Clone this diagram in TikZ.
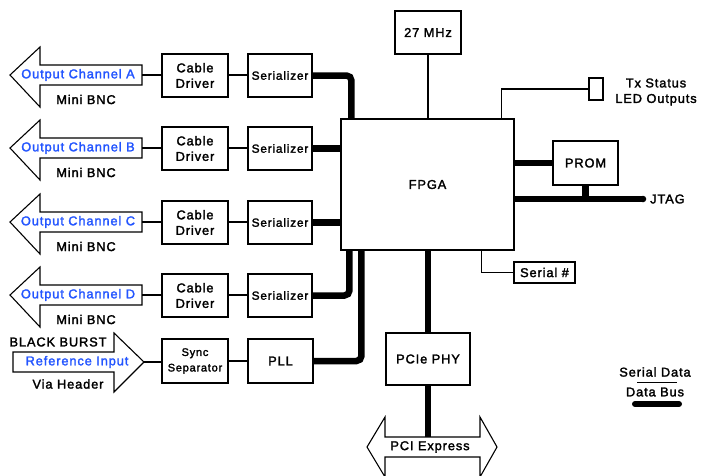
\documentclass[tikz,border=0pt]{standalone}
\usepackage{fontspec}
\setmainfont{Liberation Sans}[LetterSpace=7,FakeBold=2]
\usetikzlibrary{calc}
\definecolor{bluetxt}{RGB}{35,85,255}
\newcommand\fsz[1]{\fontsize{#1}{15.5}\selectfont}
\tikzset{
  box/.style={draw,line width=1.1pt,fill=white,inner sep=0pt,align=center,font=\fsz{12.8}},
  conn/.style={line width=1.1pt},
  bus/.style={line width=6.5pt,rounded corners=5pt},
  shapeline/.style={line width=1.1pt,line join=miter},
  lbl/.style={inner sep=0pt,font=\fsz{12.8}},
  bluelbl/.style={lbl,text=bluetxt},
}
\begin{document}
\begin{tikzpicture}[x=1pt,y=-1pt]
\useasboundingbox (0,0) rectangle (703,475);
\clip (0,0) rectangle (703,475);

% output channels
\foreach \r/\y in {A/75,B/148,C/222,D/295}{
  \draw[shapeline] (10,\y) -- (40,\y-28) -- (40,\y-10) -- (142,\y-10) -- (142,\y+10) -- (40,\y+10) -- (40,\y+32) -- cycle;
  \coordinate (out\r) at (142,\y);
  \node[bluelbl] (lab\r) at (78,\y) {Output Channel \r};
  \node[lbl] (bnc\r) at (86,\y+24.5) {Mini BNC};
  \node[box,minimum width=66,minimum height=43] (cd\r) at (195,\y+0.5) {Cable\\Driver};
  \node[box,minimum width=64,minimum height=43,font=\fsz{11.8}] (ser\r) at (280,\y+0.5) {Serializer};
  \draw[conn] (out\r) -- (cd\r.west |- out\r);
  \draw[conn] (cd\r.east |- out\r) -- (ser\r.west |- out\r);
}

% reference input
\draw[shapeline] (13,352) -- (114,352) -- (114,333) -- (144,362) -- (114,392) -- (114,372) -- (13,372) -- cycle;
\coordinate (refin) at (144,362);
\node[lbl] (bb) at (58,342) {BLACK BURST};
\node[bluelbl] (refl) at (77,362) {Reference Input};
\node[lbl] (via) at (68,384) {Via Header};
\node[box,minimum width=66,minimum height=44,font=\fsz{11}] (sync) at (195,361) {Sync\\Separator};
\node[box,minimum width=65,minimum height=44] (pll) at (280.5,361) {PLL};
\draw[conn] (refin) -- (sync.west |- refin);
\draw[conn] (sync.east) -- (pll.west);

% FPGA and neighbours
\node[box,minimum width=173,minimum height=131] (fpga) at (427.5,184.5) {FPGA};
\node[box,minimum width=66,minimum height=43] (mhz) at (428,32.5) {27 MHz};
\node[box,minimum width=65,minimum height=44] (prom) at (585.5,163) {PROM};
\node[box,minimum width=61,minimum height=21] (serial) at (544.5,272.5) {Serial \#};
\node[box,minimum width=14,minimum height=22] (led) at (596,89) {};
\node[lbl,align=center] (ledl) at (656,92) {Tx Status\\LED Outputs};
\node[box,minimum width=84,minimum height=52] (phy) at (428,359) {PCIe PHY};

% buses from serializers
\draw[bus] (serA.east) -| ([xshift=11pt]fpga.north west);
\draw[bus] (serB.east) -- (serB.east -| fpga.west);
\draw[bus] (serC.east) -- (serC.east -| fpga.west);
\draw[bus] (serD.east) -| ([xshift=9pt]fpga.south west);
\draw[bus] (pll.east) -| ([xshift=21pt]fpga.south west);

% thin connectors
\draw[conn] (mhz.south) -- (mhz.south |- fpga.north);
\draw[conn] ([xshift=-13pt]fpga.north east) |- (led.west);
\draw[conn] ([xshift=-33pt]fpga.south east) |- (serial.west);

% PROM / JTAG
\coordinate (jtag) at (643,199);
\draw[bus] (prom.west -| fpga.east) -- (prom.west);
\draw[bus] (jtag -| fpga.east) -- (jtag);
\fill (jtag) circle[radius=3.25pt];
\draw[bus] (prom.south) -- (prom.south |- jtag);
\node[lbl,anchor=west] (jtagl) at (650,199) {JTAG};

% PCI Express
\draw[shapeline] (367,447) -- (385,417) -- (385,437) -- (480,437) -- (480,417) -- (497,447) -- (480,477) -- (480,457) -- (385,457) -- (385,477) -- cycle;
\coordinate (pcitop) at (428,437);
\node[lbl] (pcil) at (430,447) {PCI Express};
\draw[bus] (fpga.south -| phy) -- (phy.north);
\draw[bus] (phy.south) -- (pcitop);

% legend
\node[lbl] (sdl) at (655,372) {Serial Data};
\coordinate (sd1) at (637,382);
\coordinate (sd2) at (677,382);
\draw[line width=1pt] (sd1) -- (sd2);
\node[lbl] (dbl) at (655,392) {Data Bus};
\coordinate (db1) at (635,404);
\coordinate (db2) at (679,404);
\draw[line width=6pt,line cap=round] (db1) -- (db2);
\end{tikzpicture}
\end{document}
